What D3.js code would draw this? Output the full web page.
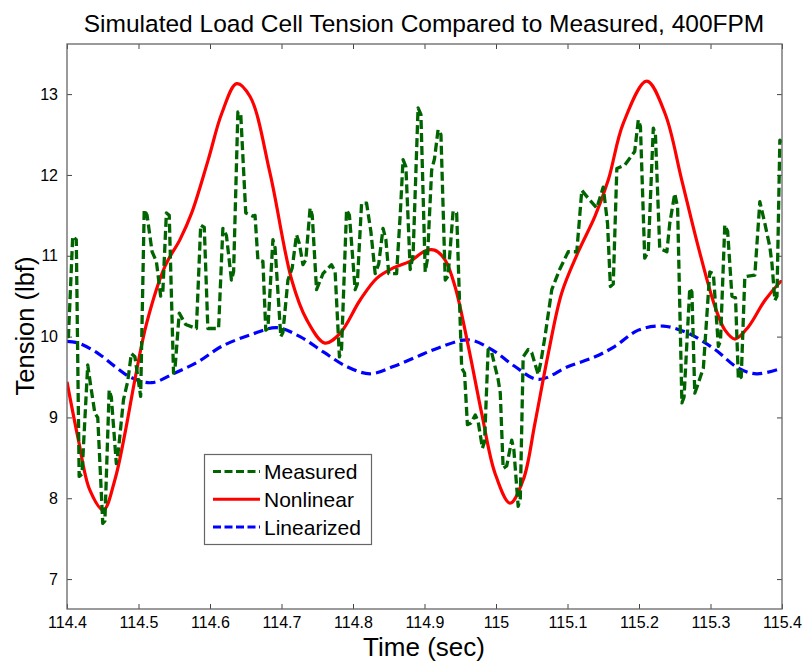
<!DOCTYPE html>
<html>
<head>
<meta charset="utf-8">
<script src="https://cdn.jsdelivr.net/npm/d3@7"></script>
<style>
  body { margin: 0; background: #fff; }
  svg { font-family: "Liberation Sans", Arial, sans-serif; }
</style>
</head>
<body>
<svg width="806" height="663"></svg>
<script>
// ---- data ----
var measuredT = [114.400,114.402,114.408,114.413,114.417,114.421,114.429,114.433,114.439,114.443,114.450,114.453,114.459,114.462,114.469,114.472,114.479,114.485,114.490,114.495,114.503,114.508,114.512,114.519,114.525,114.531,114.534,114.539,114.543,114.549,114.551,114.557,114.566,114.581,114.587,114.592,114.597,114.612,114.618,114.623,114.630,114.633,114.639,114.643,114.650,114.660,
  114.663,114.667,114.674,114.678,114.681,114.688,114.691,114.699,114.702,114.709,114.715,114.721,114.725,114.730,114.734,114.740,114.743,114.749,114.758,114.770,114.775,114.781,114.784,114.791,114.795,114.803,114.806,114.812,114.819,114.825,114.831,114.836,114.842,114.846,114.850,114.861,114.866,114.870,114.874,114.880,114.884,114.891,114.895,114.901,114.904,114.910,114.914,114.919,114.923,
  114.929,114.933,114.940,114.945,114.952,114.956,114.960,114.965,114.971,114.975,114.981,114.984,114.989,114.994,115.003,115.006,115.010,115.015,115.022,115.025,115.031,115.034,115.038,115.045,115.050,115.059,115.063,115.0685,115.078,115.089,115.101,115.113,115.120,115.130,115.141,115.150,115.156,115.160,115.164,115.169,115.180,
  115.194,115.199,115.202,115.208,115.213,115.220,115.223,115.229,115.239,115.243,115.250,115.254,115.260,115.263,115.271,115.274,115.278,115.282,115.290,115.299,115.304,115.311,115.314,115.320,115.324,115.330,115.335,115.339,115.343,115.348,115.362,115.369,115.376,115.383,115.386,115.390,115.393,115.397,115.400];
var measuredV = [10.00,10.00,11.24,11.20,8.27,8.30,9.65,9.40,9.05,9.00,7.69,7.72,9.34,9.25,8.43,8.60,9.22,9.45,9.79,9.75,9.26,11.57,11.50,11.05,10.93,10.50,10.55,11.53,11.50,9.55,9.60,10.29,10.15,10.10,11.38,11.35,10.10,10.10,11.34,11.25,10.70,10.80,12.78,12.75,11.53,11.49,
  11.50,10.95,10.93,10.08,10.10,11.20,11.10,10.00,10.05,10.70,10.85,11.26,11.15,10.89,10.95,11.59,11.50,10.58,10.78,10.89,10.80,9.75,9.85,11.57,11.50,10.58,10.65,11.65,11.65,11.30,10.78,10.90,11.34,11.20,10.78,10.78,11.50,12.19,12.10,10.83,11.00,12.83,12.75,10.80,10.95,12.06,12.20,12.56,12.50,
  10.70,10.75,11.55,11.53,9.61,9.55,8.91,8.93,9.03,8.95,8.62,8.70,9.84,9.80,9.47,9.30,8.37,8.40,8.72,8.60,7.90,8.00,9.75,9.84,9.80,9.53,9.70,10.00,10.58,10.83,11.05,11.05,11.81,11.70,11.59,11.85,11.40,10.62,10.65,12.08,12.12,
  12.29,12.68,12.60,10.97,11.05,12.58,12.50,11.09,11.05,11.40,11.77,11.60,9.18,9.25,10.60,10.55,9.30,9.40,9.61,10.80,10.78,9.88,9.95,11.38,11.30,10.50,10.48,9.47,9.50,10.74,10.76,11.67,11.40,11.11,10.90,10.45,10.50,12.43,12.40];

var nonlinearT = [114.400,114.416,114.432,114.451,114.467,114.481,114.495,114.5115,114.537,114.558,114.5744,114.5976,114.6164,114.6373,114.656,114.684,114.7143,114.7352,114.7608,114.7818,114.8098,114.8331,114.8564,114.8797,114.9007,114.914,114.9287,114.9427,114.9613,114.980,114.9986,115.0196,115.0382,115.0545,115.0731,115.0919,115.1151,115.1385,115.1571,115.1781,115.2108,115.2364,115.2597,115.2829,115.3063,115.3203,115.3343,115.3529,115.3762,115.400];
var nonlinearV = [9.44,8.72,8.10,7.855,8.23,8.80,9.47,10.17,10.87,11.20,11.53,12.19,12.76,13.13,12.97,12.02,10.70,10.21,9.92,10.04,10.45,10.72,10.85,10.93,11.06,11.07,10.95,10.62,9.88,9.05,8.31,7.94,8.23,8.93,9.79,10.54,11.05,11.49,11.94,12.64,13.16,12.76,11.94,11.11,10.37,10.08,9.97,10.12,10.45,10.70];

var linearT = [114.400,114.416,114.4438,114.4671,114.4905,114.5185,114.551,114.5836,114.6164,114.656,114.6933,114.7259,114.7585,114.7912,114.8238,114.8564,114.8891,114.9193,114.9613,114.994,115.0266,115.0592,115.1011,115.1385,115.1664,115.199,115.234,115.269,115.3063,115.3389,115.3646,115.400];
var linearV = [9.94,9.92,9.79,9.63,9.49,9.43,9.55,9.69,9.88,10.02,10.11,10.00,9.81,9.63,9.54,9.63,9.75,9.86,9.96,9.84,9.63,9.47,9.63,9.75,9.88,10.08,10.13,10.04,9.84,9.61,9.54,9.61];

var xTicks = [114.4,114.5,114.6,114.7,114.8,114.9,115,115.1,115.2,115.3,115.4];
var xTickLabels = ["114.4","114.5","114.6","114.7","114.8","114.9","115","115.1","115.2","115.3","115.4"];
var yTicks = [7,8,9,10,11,12,13];
var yTickLabels = ["7","8","9","10","11","12","13"];
var seriesNames = ["Measured","Nonlinear","Linearized"];

// ---- layout ----
var svg = d3.select("svg"),
  plotL = 67, plotR = 782, plotT = 44, plotB = 609;

var x = d3.scaleLinear().domain([114.4, 115.4]).range([plotL, plotR]);
var y = d3.scaleLinear().domain([6.63, 13.62]).range([plotB, plotT]);

svg.append("defs").append("clipPath").attr("id", "plotclip")
  .append("rect").attr("x", plotL).attr("y", plotT).attr("width", plotR - plotL).attr("height", plotB - plotT);

// axes, ticks pointing inward on all four sides
function styleAxis(g) {
  g.select(".domain").remove();
  g.selectAll(".tick line").attr("stroke", "#444");
  g.selectAll(".tick text").attr("fill", "#000").style("font-size", "16px")
    .style("font-family", "'Liberation Sans', Arial, sans-serif");
}

svg.append("g").attr("transform", "translate(0," + plotB + ")")
  .call(d3.axisBottom(x).tickValues(xTicks).tickFormat(function(d, i){ return xTickLabels[i]; })
    .tickSizeInner(-5).tickSizeOuter(0).tickPadding(8))
  .call(styleAxis);

svg.append("g").attr("transform", "translate(0," + plotT + ")")
  .call(d3.axisTop(x).tickValues(xTicks).tickFormat("").tickSizeInner(-5).tickSizeOuter(0))
  .call(styleAxis);

svg.append("g").attr("transform", "translate(" + plotL + ",0)")
  .call(d3.axisLeft(y).tickValues(yTicks).tickFormat(function(d, i){ return yTickLabels[i]; })
    .tickSizeInner(-5).tickSizeOuter(0).tickPadding(9))
  .call(styleAxis);

svg.append("g").attr("transform", "translate(" + plotR + ",0)")
  .call(d3.axisRight(y).tickValues(yTicks).tickFormat("").tickSizeInner(-5).tickSizeOuter(0))
  .call(styleAxis);

// lines
var plot = svg.append("g").attr("clip-path", "url(#plotclip)");

var stepLine = d3.line().x(function(d){ return x(d[0]); }).y(function(d){ return y(d[1]); });
var smoothLine = d3.line().x(function(d){ return x(d[0]); }).y(function(d){ return y(d[1]); })
  .curve(d3.curveCatmullRom.alpha(0.5));

plot.append("path").datum(d3.zip(linearT, linearV))
  .attr("d", smoothLine).attr("fill", "none")
  .attr("stroke", "#0000ff").attr("stroke-width", 3.2).attr("stroke-dasharray", "10,5");

plot.append("path").datum(d3.zip(nonlinearT, nonlinearV))
  .attr("d", smoothLine).attr("fill", "none")
  .attr("stroke", "#ff0000").attr("stroke-width", 3.2);

plot.append("path").datum(d3.zip(measuredT, measuredV))
  .attr("d", stepLine).attr("fill", "none").attr("stroke-linejoin", "round")
  .attr("stroke", "#006400").attr("stroke-width", 3.3).attr("stroke-dasharray", "9,4");

// frame
svg.append("rect").attr("x", plotL).attr("y", plotT).attr("width", plotR - plotL).attr("height", plotB - plotT)
  .attr("fill", "none").attr("stroke", "#666").attr("stroke-width", 1.3);

// legend
var legend = svg.append("g");
legend.append("rect").attr("x", 204.5).attr("y", 454.5).attr("width", 167).attr("height", 90)
  .attr("fill", "#fff").attr("stroke", "#666").attr("stroke-width", 1.2);

var legendStyles = [
  {color: "#006400", dash: "8,3.5"},
  {color: "#ff0000", dash: null},
  {color: "#0000ff", dash: "8,3.5"}
];
seriesNames.forEach(function(name, i) {
  var ly = 471.5 + i * 27.8;
  legend.append("line").attr("x1", 213).attr("x2", 260).attr("y1", ly).attr("y2", ly)
    .attr("stroke", legendStyles[i].color).attr("stroke-width", 3)
    .attr("stroke-dasharray", legendStyles[i].dash);
  legend.append("text").attr("x", 264).attr("y", ly + 7.5)
    .style("font-size", "21px").text(name);
});

// labels
svg.append("text").attr("x", 424).attr("y", 32).attr("text-anchor", "middle")
  .style("font-size", "24.5px").text("Simulated Load Cell Tension Compared to Measured, 400FPM");

svg.append("text").attr("x", 424).attr("y", 656).attr("text-anchor", "middle")
  .style("font-size", "26px").text("Time (sec)");

svg.append("text").attr("transform", "translate(34,326) rotate(-90)").attr("text-anchor", "middle")
  .style("font-size", "25.5px").text("Tension (lbf)");
</script>
</body>
</html>
